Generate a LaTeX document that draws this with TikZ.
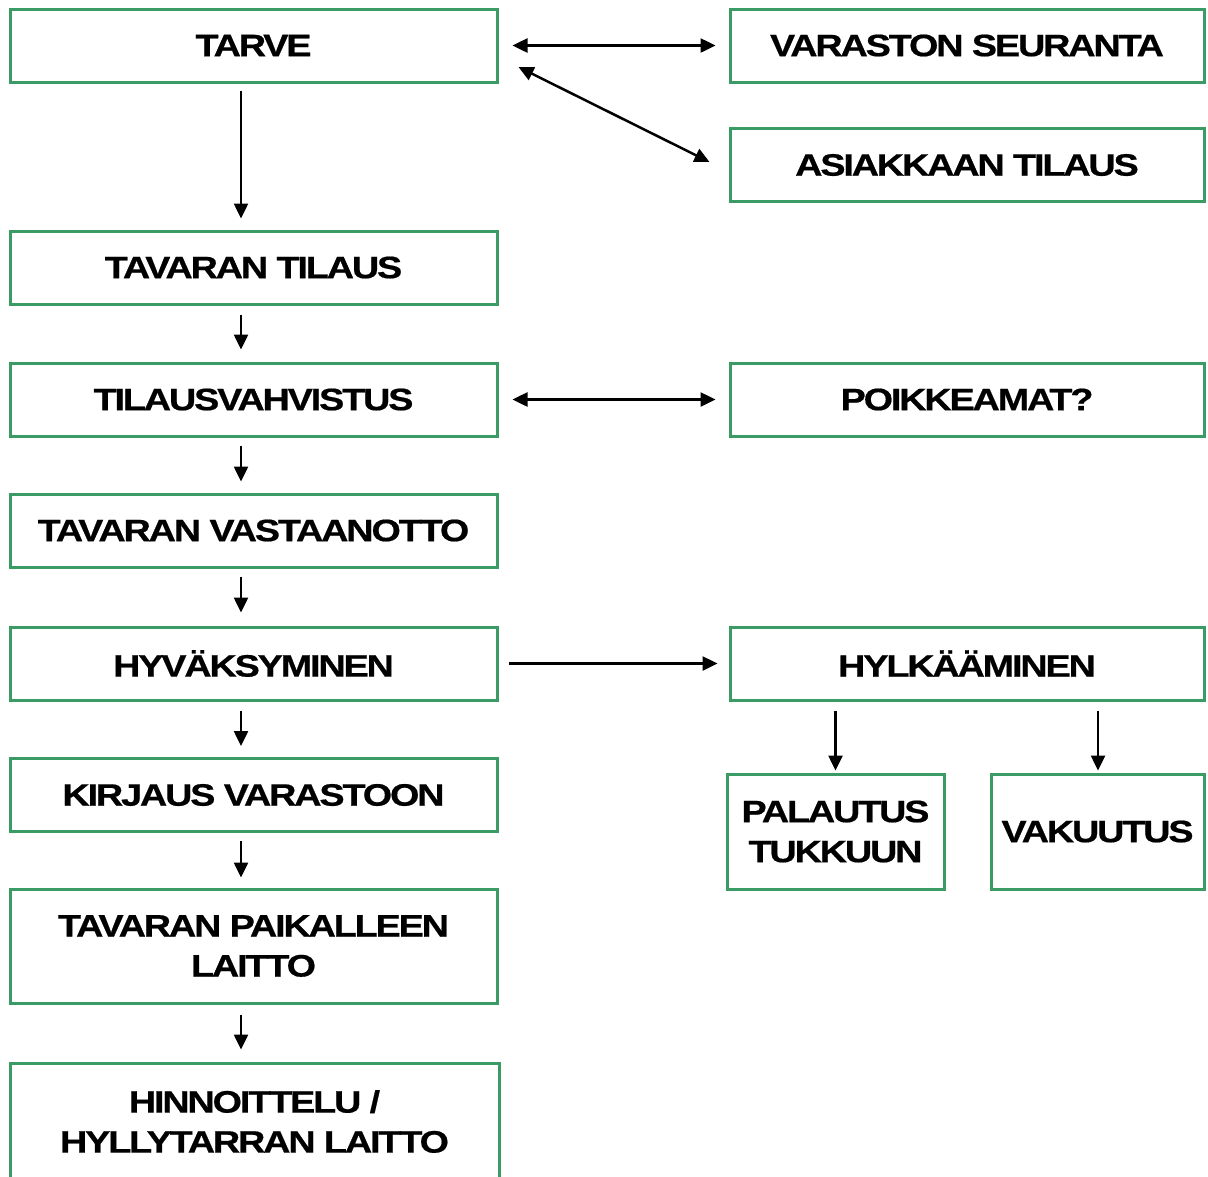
\documentclass[tikz,border=0pt]{standalone}
\usepackage{fontspec}
\setmainfont{Liberation Sans}[FakeStretch=1.22,LetterSpace=-7,BoldFeatures={FakeBold=0.6}]
\usetikzlibrary{arrows.meta,calc}
\definecolor{boxgreen}{RGB}{59,155,101}
\tikzset{
  stagebox/.style={draw=boxgreen,line width=3pt,inner sep=0pt,align=center,
    font=\fontsize{31pt}{40pt}\selectfont\bfseries},
  leftbox/.style={stagebox,minimum width=487pt,minimum height=73pt},
  rightbox/.style={stagebox,minimum width=474pt,minimum height=73pt},
  flow/.style={line width=2.5pt,-{Triangle[length=15pt,width=14pt]}},
  twoway/.style={line width=2.5pt,{Triangle[length=15pt,width=14pt]}-{Triangle[length=15pt,width=14pt]}},
}
\begin{document}
\begin{tikzpicture}[x=1pt,y=-1pt]
\useasboundingbox (0,0) rectangle (1208,1176);
\clip (0,0) rectangle (1208,1176);

% main column
\node[leftbox] (tarve)    at (253.5,45.5)  {TARVE};
\node[leftbox] (tilaus)   at (253.5,267.5) {TAVARAN TILAUS};
\node[leftbox] (vahvistus) at (253.5,399.5) {TILAUSVAHVISTUS};
\node[leftbox] (vastaanotto) at (253.5,530.5) {TAVARAN VASTAANOTTO};
\node[leftbox] (hyvaksy)  at (253.5,663.5) {HYVÄKSYMINEN};
\node[leftbox] (kirjaus)  at (253.5,795)   {KIRJAUS VARASTOON};
\node[leftbox,minimum height=114pt] (paikalle) at (253.5,946) {TAVARAN PAIKALLEEN\\LAITTO};
\node[leftbox,minimum width=489pt,minimum height=117pt] (hinnoittelu) at (254.5,1121.5) {HINNOITTELU /\\HYLLYTARRAN LAITTO};

% side column
\node[rightbox] (seuranta)   at (967,45.5)  {VARASTON SEURANTA};
\node[rightbox] (asiakas)    at (967,165)   {ASIAKKAAN TILAUS};
\node[rightbox] (poikkeamat) at (967,399.5) {POIKKEAMAT?};
\node[rightbox] (hylkays)    at (967,663.5) {HYLKÄÄMINEN};
\node[stagebox,minimum width=217pt,minimum height=115pt] (palautus) at (835.5,831.5) {PALAUTUS\\TUKKUUN};
\node[stagebox,minimum width=213pt,minimum height=115pt] (vakuutus) at (1097.5,831.5) {VAKUUTUS};

% vertical flow along the main column
\coordinate (col) at (241,0);
\draw[flow,shorten <=7pt,shorten >=11pt] (tarve.south -| col) -- (tilaus.north -| col);
\draw[flow,shorten <=9pt,shorten >=12pt] (tilaus.south -| col) -- (vahvistus.north -| col);
\draw[flow,shorten <=8pt,shorten >=11pt] (vahvistus.south -| col) -- (vastaanotto.north -| col);
\draw[flow,shorten <=8pt,shorten >=13pt] (vastaanotto.south -| col) -- (hyvaksy.north -| col);
\draw[flow,shorten <=9pt,shorten >=11pt] (hyvaksy.south -| col) -- (kirjaus.north -| col);
\draw[flow,shorten <=8pt,shorten >=10pt] (kirjaus.south -| col) -- (paikalle.north -| col);
\draw[flow,shorten <=10pt,shorten >=12pt] (paikalle.south -| col) -- (hinnoittelu.north -| col);

% links to the side column
\draw[twoway,shorten <=14pt,shorten >=13pt] (tarve.east) -- (tarve.east -| seuranta.west);
\draw[twoway] ($(tarve.east)+(20,21.5)$) -- ($(asiakas.west)+(-19,-3)$);
\draw[twoway,shorten <=14pt,shorten >=13pt] (vahvistus.east) -- (vahvistus.east -| poikkeamat.west);
\draw[flow,shorten <=10pt,shorten >=11pt] (hyvaksy.east) -- (hyvaksy.east -| hylkays.west);
\draw[flow,shorten <=9pt,shorten >=2pt] (hylkays.south -| palautus.north) -- (palautus.north);
\coordinate (vakcol) at (1098,0);
\draw[flow,shorten <=9pt,shorten >=2pt] (hylkays.south -| vakcol) -- (vakuutus.north -| vakcol);
\end{tikzpicture}
\end{document}
